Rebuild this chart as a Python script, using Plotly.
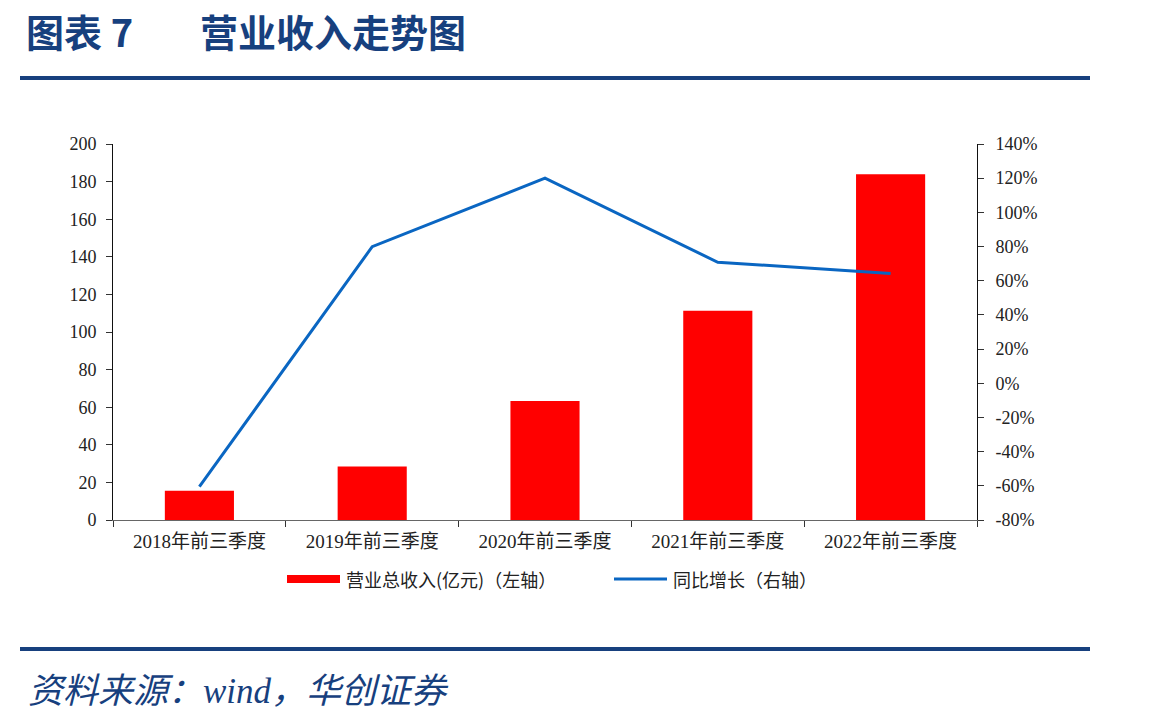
import plotly.graph_objects as go

categories = ["2018年前三季度", "2019年前三季度", "2020年前三季度", "2021年前三季度", "2022年前三季度"]
revenue = [15.6, 28.4, 63.3, 111.3, 183.9]
growth = [-60.5, 79.9, 120.0, 70.8, 64.3]
left_ticks = list(range(0, 201, 20))
right_ticks = list(range(-80, 141, 20))

W, H = 1149, 725
L, R, T, B = 113, 977, 144, 520
PW, PH = R - L, B - T

def px(x):
    return (x - L) / PW

def py(y):
    return (B - y) / PH

NAVY = "#17407E"
SERIF = "Liberation Serif, Noto Sans CJK SC, serif"
CJK = "Noto Sans CJK SC, sans-serif"

fig = go.Figure()
fig.add_trace(go.Bar(x=categories, y=revenue, marker=dict(color="#FF0000", line=dict(width=0)),
                     width=0.4, name="营业总收入(亿元)（左轴）", showlegend=False))
fig.add_trace(go.Scatter(x=categories, y=growth, yaxis="y2", mode="lines",
                         line=dict(color="#0A66C2", width=3), name="同比增长（右轴）", showlegend=False))

fig.update_layout(
    width=W, height=H,
    margin=dict(l=L, r=W - R, t=T, b=H - B, pad=0),
    paper_bgcolor="white", plot_bgcolor="white",
    font=dict(family=SERIF, size=15, color="#222"),
    xaxis=dict(type="category", tickson="boundaries", ticks="outside", ticklen=6,
               tickcolor="#333", showline=True, linecolor="#666", linewidth=1,
               ticklabelstandoff=4,
               showgrid=False, tickfont=dict(family=SERIF, size=19, color="#222")),
    yaxis=dict(range=[0, 200], tickvals=left_ticks, ticks="outside", ticklen=6, tickcolor="#333",
               showline=True, linecolor="#111", linewidth=1, showgrid=False, zeroline=False,
               ticklabelstandoff=6,
               tickfont=dict(family=SERIF, size=18, color="#222")),
    yaxis2=dict(range=[-80, 140], tickvals=right_ticks, ticktext=[f"{v}%" for v in right_ticks],
                overlaying="y", side="right", ticks="outside", ticklen=6, tickcolor="#333",
                showline=True, linecolor="#111", linewidth=1, showgrid=False, zeroline=False,
                ticklabelstandoff=8,
                tickfont=dict(family=SERIF, size=18, color="#222")),
)

shapes = [
    dict(type="line", xref="paper", yref="paper", x0=px(20), x1=px(1090), y0=py(78), y1=py(78),
         line=dict(color=NAVY, width=4)),
    dict(type="line", xref="paper", yref="paper", x0=px(20), x1=px(1090), y0=py(649), y1=py(649),
         line=dict(color=NAVY, width=4)),
    dict(type="rect", xref="paper", yref="paper", x0=px(287), x1=px(340), y0=py(583), y1=py(575),
         fillcolor="#FF0000", line=dict(width=0)),
    dict(type="line", xref="paper", yref="paper", x0=px(614), x1=px(667), y0=py(579), y1=py(579),
         line=dict(color="#0A66C2", width=3)),
]
fig.update_layout(shapes=shapes)

ann = [
    dict(text="<b>图表 7</b>", x=px(24), y=py(30), xanchor="left", yanchor="middle",
         font=dict(family=CJK, size=38, color=NAVY)),
    dict(text="<b>营业收入走势图</b>", x=px(198), y=py(30), xanchor="left", yanchor="middle",
         font=dict(family=CJK, size=38, color=NAVY)),
    dict(text="营业总收入(亿元)（左轴）", x=px(344), y=py(579), xanchor="left", yanchor="middle",
         font=dict(family=CJK, size=18, color="#222")),
    dict(text="同比增长（右轴）", x=px(671), y=py(579), xanchor="left", yanchor="middle",
         font=dict(family=CJK, size=18, color="#222")),
    dict(text="<i>资料来源：wind，华创证券</i>", x=px(26), y=py(691), xanchor="left", yanchor="middle",
         font=dict(family="Liberation Serif, Noto Sans CJK SC", size=35, color=NAVY)),
]
for a in ann:
    a.update(xref="paper", yref="paper", showarrow=False)
fig.update_layout(annotations=ann)

fig.write_html("out.html")
